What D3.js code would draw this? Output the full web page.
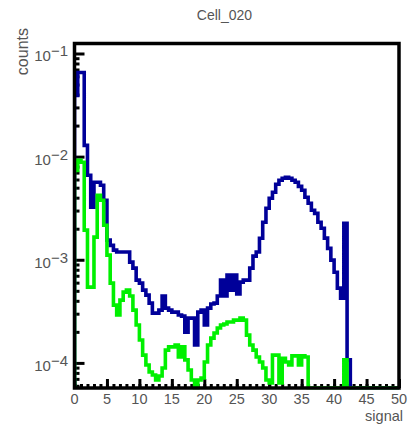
<!DOCTYPE html>
<html><head><meta charset="utf-8">
<script src="https://cdn.jsdelivr.net/npm/d3@7"></script>
<style>
body{margin:0;background:#fff}
text{font-family:"Liberation Sans",Arial,Helvetica,sans-serif}
</style>
</head><body>
<svg id="c" width="408" height="426"></svg>
<script>
// ---- data ----
const title = "Cell_020";
const xTitle = "signal";
const yTitle = "counts";
const binWidth = 0.5;
const xDomain = [0, 50];
const xMajorTicks = [0, 5, 10, 15, 20, 25, 30, 35, 40, 45, 50];
const xMinorTicks = d3.range(0, 51, 1);
const yMajorExps = [-1, -2, -3, -4];
const yDomain = [5.71e-5, 0.125];

// dark blue histogram (100 bins of 0.5)
const blueCounts = [
0.0392,0.0655,0.0655,0.01287,0.00659,0.00323,0.00564,0.00564,0.00527,0.00377,
0.00155,0.00138,0.00124,0.00119,0.00119,0.00119,0.00119,0.000948,0.000829,0.000635,
0.000594,0.000508,0.000454,0.000380,0.000304,0.000304,0.000325,0.000445,0.000340,0.000325,
0.000311,0.000311,0.000291,0.000284,0.000199,0.000272,0.000272,0.000149,0.000311,0.000325,
0.000233,0.000340,0.000372,0.000380,0.000445,0.000635,0.000445,0.000710,0.000508,0.000710,
0.000465,0.000607,0.000635,0.000635,0.000829,0.001084,0.00119,0.001618,0.002312,0.003162,
0.003948,0.00451,0.005393,0.0059,0.006166,0.006306,0.006166,0.0059,0.00564,0.00515,
0.00472,0.00404,0.00353,0.00302,0.00282,0.00231,0.00202,0.00162,0.00129,0.000991,
0.000758,0.000531,0.000425,0.00226,0.000107,0,0,0,0,0,
0,0,0,0,0,0,0,0,0,0
];
// green histogram
const greenCounts = [
0.00736,0.0092,0.00881,0.00194,0.000543,0.000543,0.001656,0.00422,0.00377,0.00216,
0.00111,0.000594,0.000363,0.000291,0.000406,0.000486,0.000508,0.000445,0.000325,0.000233,
0.000167,0.000119,0.0000955,0.0000817,0.0000764,0.0000683,0.0000746,0.0000893,0.000133,0.000143,
0.000143,0.000149,0.000114,0.000143,0.000107,0.0000853,0.0000683,0,0.0000683,0.0000714,
0.000102,0.000149,0.000174,0.000195,0.000218,0.000233,0.000238,0.000249,0.000249,0.000260,
0.000260,0.000272,0.000260,0.000186,0.000149,0.000133,0.000114,0.000102,0.0000893,0.0000683,
0.0000638,0.000119,0.000119,0.0000638,0.000111,0.000102,0.0000955,0.000117,0.000117,0.0000955,
0.000117,0.000114,0,0,0,0,0,0,0,0,
0,0,0,0.000107,0,0,0,0,0,0,
0,0,0,0,0,0,0,0,0,0
];

// ---- layout ----
const frame = {left: 74.5, right: 399, top: 43.5, bottom: 388};
const svg = d3.select("#c");
const x = d3.scaleLinear().domain(xDomain).range([frame.left, frame.right]);
const y = d3.scaleLog().domain(yDomain).range([frame.bottom, frame.top]);
const textColor = "#555";

svg.append("defs").append("clipPath").attr("id","clip")
  .append("rect").attr("x", frame.left).attr("y", frame.top)
  .attr("width", frame.right-frame.left).attr("height", frame.bottom-frame.top+1.5);

function histPoints(counts){
  const ymin = yDomain[0];
  const pts = [[xDomain[0], ymin]];
  counts.forEach((c,i)=>pts.push([xDomain[0]+i*binWidth, Math.max(c, ymin)]));
  const last = counts[counts.length-1];
  pts.push([xDomain[1], Math.max(last, ymin)]);
  pts.push([xDomain[1], ymin]);
  return pts;
}
const line = d3.line().x(d=>x(d[0])).y(d=>y(d[1])).curve(d3.curveStepAfter);

// axes (ticks inward)
const gx = svg.append("g").attr("transform",`translate(0,${frame.bottom})`);
gx.call(d3.axisBottom(x).tickValues(xMinorTicks).tickSize(-4).tickFormat(""));
gx.append("g").call(d3.axisBottom(x).tickValues(xMajorTicks).tickSize(-9).tickFormat(""));
gx.selectAll(".domain").remove();
gx.selectAll("line").attr("stroke","#000").attr("stroke-width",3);

const yMajor = yMajorExps.map(e=>Math.pow(10,e));
const yMinor = [];
for (let e=-5; e<=-1; e++) for (let m=2; m<=9; m++){
  const v = m*Math.pow(10,e);
  if (v>=yDomain[0] && v<=yDomain[1]) yMinor.push(v);
}
const gy = svg.append("g").attr("transform",`translate(${frame.left},0)`);
gy.call(d3.axisLeft(y).tickValues(yMinor).tickSize(-5).tickFormat(""));
gy.append("g").call(d3.axisLeft(y).tickValues(yMajor).tickSize(-10).tickFormat(""));
gy.selectAll(".domain").remove();
gy.selectAll("line").attr("stroke","#000").attr("stroke-width",3);

// histogram paths
const gh = svg.append("g").attr("clip-path","url(#clip)");
gh.append("path").attr("d", line(histPoints(blueCounts)))
  .attr("fill","none").attr("stroke","#000099").attr("stroke-width",3.6).attr("stroke-linejoin","miter");
gh.append("path").attr("d", line(histPoints(greenCounts)))
  .attr("fill","none").attr("stroke","#00f000").attr("stroke-width",3.6).attr("stroke-linejoin","miter");

// frame
svg.append("rect").attr("x",frame.left).attr("y",frame.top)
  .attr("width",frame.right-frame.left).attr("height",frame.bottom-frame.top)
  .attr("fill","none").attr("stroke","#000").attr("stroke-width",3.5);

// x tick labels
svg.append("g").selectAll("text").data(xMajorTicks).join("text")
  .attr("x", d=>x(d)).attr("y", 404).attr("text-anchor","middle")
  .attr("font-size",14.5).attr("fill",textColor).text(d=>d);

// y tick labels 10^-n
const yl = svg.append("g").selectAll("text").data(yMajorExps).join("text")
  .attr("x", 68).attr("y", d=>y(Math.pow(10,d))+8).attr("text-anchor","end")
  .attr("font-size",15).attr("fill",textColor);
yl.append("tspan").text("10");
yl.append("tspan").attr("dy",-5).text(d=>"\u2212"+Math.abs(d));

// titles
svg.append("text").attr("x",224.5).attr("y",20).attr("text-anchor","middle")
  .attr("font-size",14).attr("fill",textColor).text(title);
svg.append("text").attr("x",403).attr("y",421).attr("text-anchor","end")
  .attr("font-size",14.5).attr("fill",textColor).text(xTitle);
svg.append("text").attr("transform","translate(28,28) rotate(-90)").attr("text-anchor","end")
  .attr("font-size",16).attr("fill",textColor).text(yTitle);
</script>
</body></html>
